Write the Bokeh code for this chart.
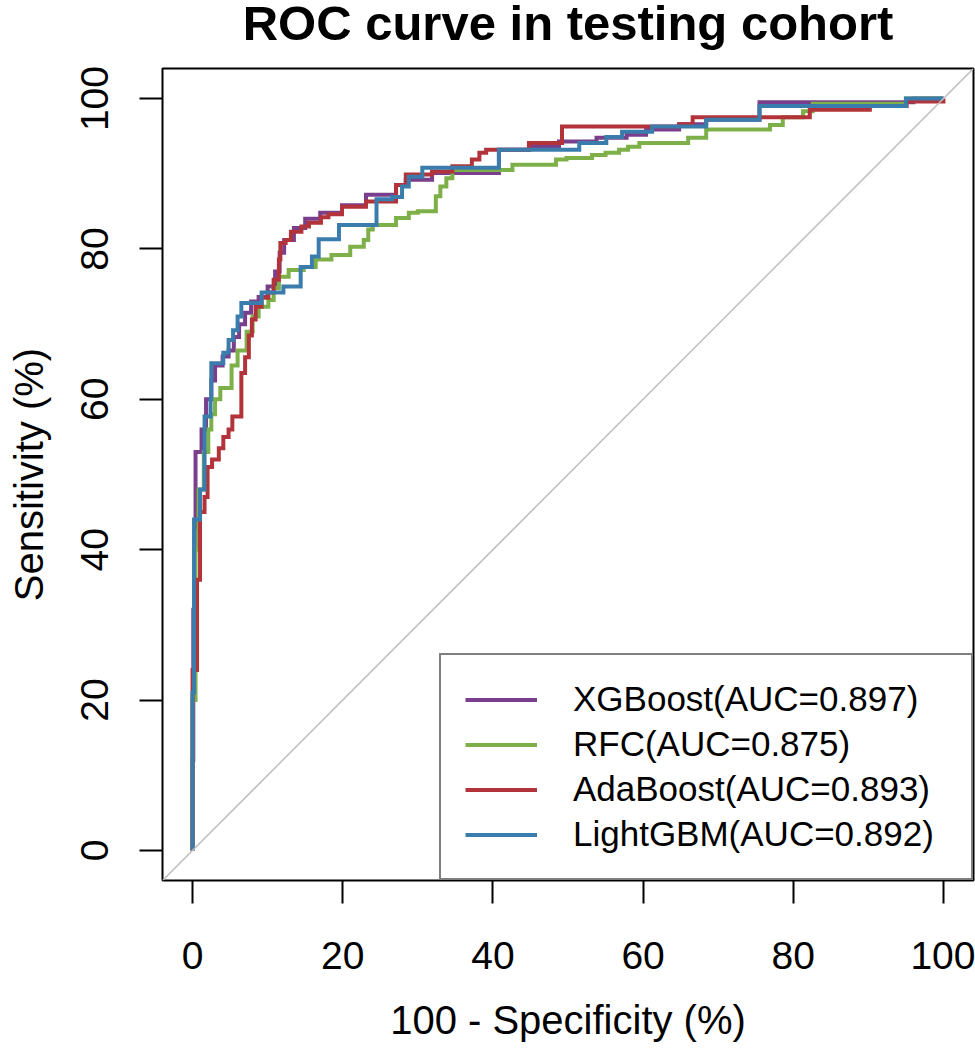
from bokeh.plotting import figure
from bokeh.models import Range1d, FixedTicker, Slope, Label
from bokeh.layouts import column
from bokeh.embed import file_html
from bokeh.resources import INLINE

# ---------------- data ----------------
title_text = "ROC curve in testing cohort"
x_label = "100 - Specificity (%)"
y_label = "Sensitivity (%)"
tick_values = [0, 20, 40, 60, 80, 100]

model_names = ["XGBoost", "RFC", "AdaBoost", "LightGBM"]
model_aucs = [0.897, 0.875, 0.893, 0.892]
model_colors = ["#7A3F8C", "#7EB04A", "#B2343A", "#3A7DAD"]

# ROC vertices (100 - specificity, sensitivity), in %
xgb_roc = [(0, 0), (0, 12), (0.1, 12), (0.1, 32), (0.3, 32), (0.3, 43), (0.4, 43), (0.4, 53),
           (1.2, 53), (1.2, 56), (1.8, 56), (1.8, 60), (2.5, 60), (2.5, 62.5), (3.0, 62.5),
           (3.0, 64.5), (4.0, 64.5), (4.0, 65.7), (4.8, 65.7), (4.8, 66.5), (5.5, 66.5),
           (5.5, 68.3), (6.2, 68.3), (6.2, 70), (7.0, 70), (7.0, 71.5), (7.8, 71.5), (7.8, 73),
           (8.8, 73), (8.8, 73.6), (10.0, 73.6), (10.0, 75), (11.0, 75), (11.0, 77), (11.6, 77),
           (11.6, 79.5), (12.2, 79.5), (12.2, 81.2), (13.5, 81.2), (13.5, 82.8), (15.0, 82.8),
           (15.0, 84), (17.0, 84), (17.0, 84.8), (19.9, 84.8), (19.9, 85.8), (23.1, 85.8),
           (23.1, 87.2), (27.1, 87.2), (27.1, 88.5), (28.4, 88.5), (28.4, 89.2), (31.9, 89.2),
           (31.9, 90.1), (40.8, 90.1), (40.8, 93.2), (44.8, 93.2), (44.8, 93.6), (48.8, 93.6),
           (48.8, 94.3), (53.8, 94.3), (53.8, 94.8), (57.8, 94.8), (57.8, 95.2), (60.4, 95.2),
           (60.4, 95.9), (64.8, 95.9), (64.8, 96.6), (68.4, 96.6), (68.4, 97.2), (75.5, 97.2),
           (75.5, 99.5), (96.0, 99.5), (96.0, 100), (100, 100)]

rfc_roc = [(0, 0), (0, 20), (0.4, 20), (0.4, 40), (0.8, 40), (0.8, 48), (1.5, 48), (1.5, 53),
           (2.1, 53), (2.1, 56), (2.5, 56), (2.5, 58), (3.0, 58), (3.0, 60), (3.7, 60),
           (3.7, 61.5), (5.2, 61.5), (5.2, 64.5), (6.0, 64.5), (6.0, 66.5), (7.2, 66.5),
           (7.2, 69), (8.0, 69), (8.0, 71), (8.8, 71), (8.8, 72.3), (10.1, 72.3), (10.1, 73.2),
           (10.8, 73.2), (10.8, 74.8), (11.5, 74.8), (11.5, 76.3), (12.8, 76.3), (12.8, 77.2),
           (14.8, 77.2), (14.8, 77.6), (16.4, 77.6), (16.4, 78.6), (18.5, 78.6), (18.5, 79.2),
           (21.0, 79.2), (21.0, 80.3), (22.8, 80.3), (22.8, 81.2), (23.4, 81.2), (23.4, 82.6),
           (24.0, 82.6), (24.0, 83.2), (27.1, 83.2), (27.1, 84.1), (28.8, 84.1), (28.8, 84.8),
           (30.0, 84.8), (30.0, 85), (32.4, 85), (32.4, 87), (33.0, 87), (33.0, 88.3),
           (33.8, 88.3), (33.8, 89.4), (34.6, 89.4), (34.6, 90.5), (42.6, 90.5), (42.6, 91.2),
           (48.4, 91.2), (48.4, 91.9), (49.8, 91.9), (49.8, 92.1), (53.2, 92.1), (53.2, 92.5),
           (55.0, 92.5), (55.0, 92.8), (56.8, 92.8), (56.8, 93.2), (58.0, 93.2), (58.0, 93.6),
           (59.5, 93.6), (59.5, 94.1), (66.0, 94.1), (66.0, 94.8), (68.4, 94.8), (68.4, 95.9),
           (76.9, 95.9), (76.9, 96.5), (78.6, 96.5), (78.6, 97.5), (81.3, 97.5), (81.3, 98.3),
           (82.6, 98.3), (82.6, 99.3), (95.0, 99.3), (95.0, 100), (100, 100)]

ada_roc = [(0, 0), (0, 24), (0.6, 24), (0.6, 36), (1.0, 36), (1.0, 45), (1.6, 45), (1.6, 47),
           (2.0, 47), (2.0, 51), (2.6, 51), (2.6, 52), (3.5, 52), (3.5, 53.5), (4.1, 53.5),
           (4.1, 55), (4.8, 55), (4.8, 56), (5.3, 56), (5.3, 57.7), (6.5, 57.7), (6.5, 63.5),
           (7.0, 63.5), (7.0, 65.6), (7.5, 65.6), (7.5, 68.5), (7.9, 68.5), (7.9, 70.6),
           (8.4, 70.6), (8.4, 72.3), (9.2, 72.3), (9.2, 73.5), (10.1, 73.5), (10.1, 74.2),
           (10.8, 74.2), (10.8, 75.9), (11.5, 75.9), (11.5, 78.6), (11.7, 78.6), (11.7, 80.8),
           (12.4, 80.8), (12.4, 81.2), (13.1, 81.2), (13.1, 82.3), (14.5, 82.3), (14.5, 83.0),
           (15.5, 83.0), (15.5, 83.5), (17.1, 83.5), (17.1, 84.2), (18.1, 84.2), (18.1, 84.6),
           (19.9, 84.6), (19.9, 85.6), (23.1, 85.6), (23.1, 86.3), (27.1, 86.3), (27.1, 88.5),
           (28.4, 88.5), (28.4, 89.9), (31.9, 89.9), (31.9, 90.3), (34.6, 90.3), (34.6, 91.0),
           (37.2, 91.0), (37.2, 91.9), (38.2, 91.9), (38.2, 92.8), (39.1, 92.8), (39.1, 93.2),
           (44.8, 93.2), (44.8, 94.1), (49.2, 94.1), (49.2, 96.3), (64.8, 96.3), (64.8, 96.6),
           (66.6, 96.6), (66.6, 97.5), (82.2, 97.5), (82.2, 98.5), (90.2, 98.5), (90.2, 99.0),
           (95.1, 99.0), (95.1, 99.6), (100, 99.6), (100, 100)]

lgbm_roc = [(0, 0), (0, 21), (0.2, 21), (0.2, 44), (1.0, 44), (1.0, 48), (1.6, 48), (1.6, 57.7),
            (2.4, 57.7), (2.4, 60), (2.5, 60), (2.5, 64.8), (4.1, 64.8), (4.1, 66.2), (4.8, 66.2),
            (4.8, 67.9), (5.4, 67.9), (5.4, 69.2), (6.0, 69.2), (6.0, 71), (6.5, 71), (6.5, 72.8),
            (9.2, 72.8), (9.2, 74.2), (12.1, 74.2), (12.1, 75), (14.4, 75), (14.4, 77.6),
            (15.9, 77.6), (15.9, 79), (16.8, 79), (16.8, 81.3), (19.5, 81.3), (19.5, 83.2),
            (24.5, 83.2), (24.5, 86.6), (26.6, 86.6), (26.6, 86.9), (27.9, 86.9), (27.9, 88.3),
            (28.8, 88.3), (28.8, 89.6), (30.6, 89.6), (30.6, 90.8), (40.8, 90.8), (40.8, 93.2),
            (51.5, 93.2), (51.5, 94.1), (55.1, 94.1), (55.1, 94.9), (57.2, 94.9), (57.2, 95.6),
            (61.2, 95.6), (61.2, 96.3), (68.4, 96.3), (68.4, 97.2), (75.5, 97.2), (75.5, 99.0),
            (95.0, 99.0), (95.0, 100), (100, 100)]

model_rocs = [xgb_roc, rfc_roc, ada_roc, lgbm_roc]

FONT = "Liberation Sans"
TITLE_H = 50

# ---------------- title strip (same horizontal geometry as the plot) ----------------
t = figure(frame_width=811, frame_height=TITLE_H,
           min_border_left=162, min_border_right=2, min_border_top=0, min_border_bottom=0,
           x_range=Range1d(-4, 104), y_range=Range1d(0, TITLE_H),
           x_axis_type=None, y_axis_type=None,
           output_backend="svg", toolbar_location=None,
           background_fill_color="white", border_fill_color="white")
t.outline_line_color = None
t.xgrid.visible = False
t.ygrid.visible = False
t.title.visible = False
t.add_layout(Label(x=50, y=28, text=title_text,
                   text_align="center", text_baseline="alphabetic",
                   text_font=FONT, text_font_size="49px", text_font_style="bold",
                   text_color="black"))

# ---------------- main figure ----------------
p = figure(frame_width=811, frame_height=812,
           min_border_left=162, min_border_right=2,
           min_border_top=68 - TITLE_H, min_border_bottom=172,
           x_range=Range1d(-4, 104), y_range=Range1d(-4, 104),
           output_backend="svg", toolbar_location=None,
           background_fill_color="white", border_fill_color="white")

p.xgrid.visible = False
p.ygrid.visible = False
p.outline_line_color = "black"
p.outline_line_width = 2

for ax in (p.xaxis[0], p.yaxis[0]):
    ax.ticker = FixedTicker(ticks=tick_values)
    ax.axis_line_color = None
    ax.major_tick_in = 0
    ax.major_tick_out = 23
    ax.major_tick_line_width = 2
    ax.major_tick_line_color = "black"
    ax.minor_tick_line_color = None
    ax.major_label_text_font = FONT
    ax.major_label_text_font_size = "39px"
    ax.major_label_text_color = "black"
    ax.axis_label_text_font = FONT
    ax.axis_label_text_font_size = "40px"
    ax.axis_label_text_font_style = "normal"
    ax.axis_label_text_color = "black"

p.xaxis.axis_label = x_label
p.yaxis.axis_label = y_label
p.xaxis.major_label_standoff = 38
p.xaxis.axis_label_standoff = 26
p.yaxis.major_label_standoff = 31
p.yaxis.axis_label_standoff = 28
p.yaxis.major_label_orientation = "vertical"

# chance line
p.add_layout(Slope(gradient=1, y_intercept=0, line_color="#BDBDBD", line_width=1.5))

for name, auc, color, roc in zip(model_names, model_aucs, model_colors, model_rocs):
    xs = [pt[0] for pt in roc]
    ys = [pt[1] for pt in roc]
    p.line(xs, ys, line_color=color, line_width=4, line_join="miter",
           legend_label=f"{name}(AUC={auc:.3f})")

lg = p.legend[0]
lg.location = "bottom_right"
lg.margin = 0
lg.padding = 24
lg.spacing = 5
lg.label_height = 39
lg.glyph_height = 39
lg.glyph_width = 72
lg.label_standoff = 36
lg.label_width = 374
lg.label_text_font = FONT
lg.label_text_font_size = "35px"
lg.label_text_color = "black"
lg.border_line_color = "black"
lg.border_line_width = 2
lg.background_fill_color = "white"
lg.background_fill_alpha = 1.0

layout = column(t, p, spacing=0)
open("out.html", "w").write(file_html(layout, INLINE))
